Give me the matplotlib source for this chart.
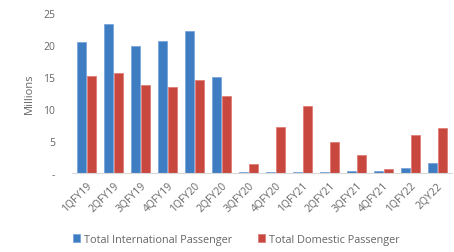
import numpy as np
import matplotlib
matplotlib.use("Agg")
import matplotlib.pyplot as plt

quarters = ["1QFY19", "2QFY19", "3QFY19", "4QFY19", "1QFY20", "2QFY20", "3QFY20",
            "4QFY20", "1QFY21", "2QFY21", "3QFY21", "4QFY21", "1QFY22", "2QY22"]
international = [20.5, 23.3, 19.8, 20.6, 22.2, 15.0, 0.15, 0.1, 0.1, 0.1, 0.25, 0.3, 0.8, 1.5]
domestic = [15.2, 15.6, 13.7, 13.4, 14.5, 12.0, 1.35, 7.2, 10.5, 4.8, 2.9, 0.6, 6.0, 7.0]

plt.rcParams["font.family"] = ["Open Sans", "DejaVu Sans"]
text_col = "#666666"

fig = plt.figure(figsize=(4.54, 2.53), dpi=100)
ax = fig.add_axes([0.158, 0.312, 0.838, 0.632])

x = np.arange(len(quarters))
w = 0.32
ax.bar(x - w / 2 - 0.02, international, w, color="#3E7DC2", edgecolor="#7AA6DA", linewidth=0.6,
       label="Total International Passenger")
ax.bar(x + w / 2 + 0.02, domestic, w, color="#C8473F", edgecolor="#E07E77", linewidth=0.6,
       label="Total Domestic Passenger")

ax.set_xlim(-0.55, len(quarters) - 0.45)
ax.set_ylim(0, 25)
ax.set_yticks([0, 5, 10, 15, 20, 25])
ax.set_yticklabels(["-", "5", "10", "15", "20", "25"])
ax.set_xticks(x)
ax.set_xticklabels(quarters, rotation=45, ha="right", rotation_mode="anchor")
ax.tick_params(axis="both", length=0, labelsize=7.5, colors=text_col, pad=5)
ax.tick_params(axis="y", pad=12)
ax.set_ylabel("Millions", fontsize=8, color=text_col, labelpad=6)

for s in ["top", "right", "left"]:
    ax.spines[s].set_visible(False)
ax.spines["bottom"].set_color("#D9D9D9")

fig.legend(loc="lower center", bbox_to_anchor=(0.52, -0.01), ncol=2, frameon=False,
           fontsize=7.8, labelcolor=text_col, handlelength=0.7, handleheight=0.7,
           handletextpad=0.3, columnspacing=2.4)

fig.savefig("out.png", dpi=100)
